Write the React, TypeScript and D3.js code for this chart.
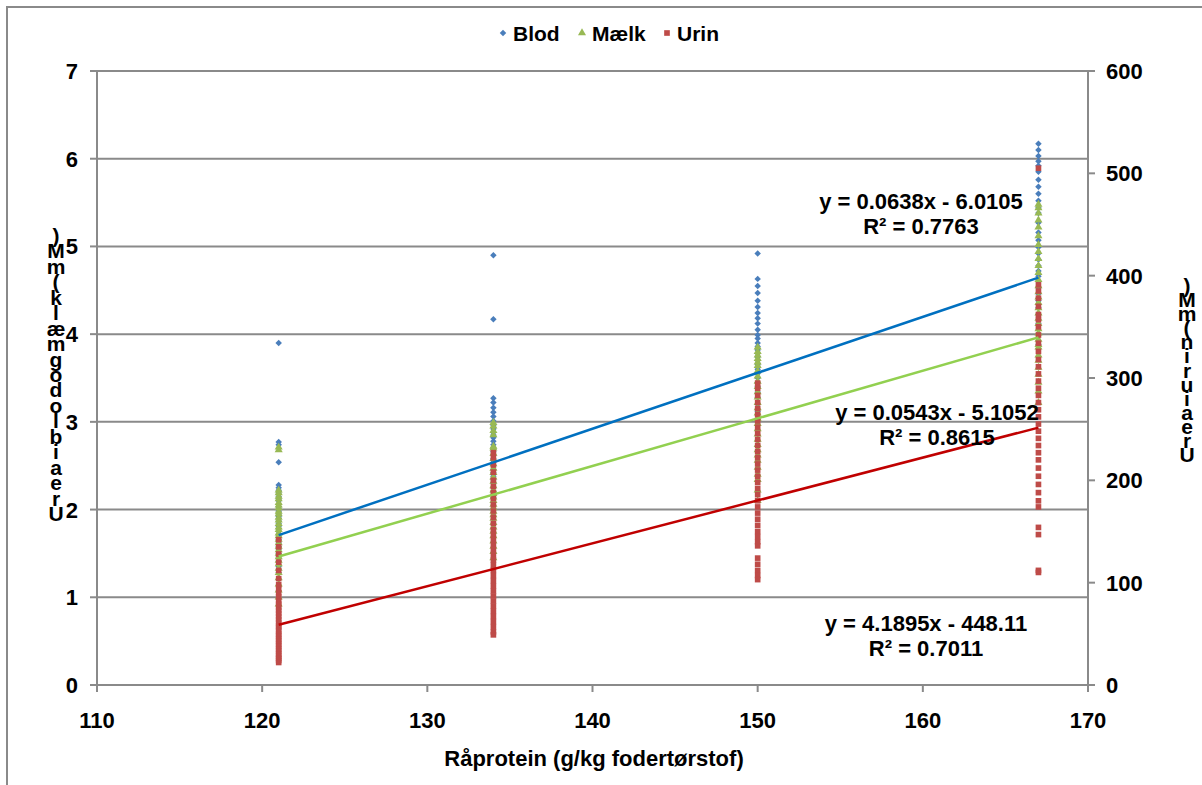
import React, { useRef, useEffect } from "react";
import * as d3 from "d3";

// x levels (g/kg fodertørstof)
const xLevels = [121, 134, 150, 167];

// Urea i blod (mM), one list per x level
const blodValues = [
  [3.9, 2.77, 2.74, 2.54, 2.28, 2.25, 2.22, 2.19, 2.15, 2.12, 2.1, 2.06, 2.03, 2.0, 1.98, 1.95, 1.92, 1.9, 1.87, 1.84, 1.81, 1.78, 1.75, 1.72, 1.7, 1.66, 1.62, 1.58, 1.55, 1.5, 1.46, 1.41, 1.35, 1.28],
  [4.9, 4.17, 3.27, 3.22, 3.16, 3.11, 3.06, 3.01, 2.96, 2.92, 2.88, 2.85, 2.82, 2.78, 2.74, 2.7, 2.66, 2.62, 2.58, 2.54, 2.5, 2.46, 2.42, 2.38, 2.34, 2.3, 2.25, 2.2, 2.14, 2.08, 2.0],
  [4.92, 4.63, 4.55, 4.47, 4.38, 4.31, 4.24, 4.18, 4.12, 4.05, 3.99, 3.95, 3.9, 3.86, 3.82, 3.78, 3.74, 3.7, 3.65, 3.6, 3.55, 3.5, 3.45, 3.4, 3.34, 3.28, 3.2, 3.12, 3.02],
  [6.17, 6.1, 6.03, 5.97, 5.92, 5.85, 5.76, 5.68, 5.6, 5.52, 5.44, 5.38, 5.27, 5.16, 5.07, 4.99, 4.92, 4.85, 4.78, 4.72, 4.66, 4.6, 4.53, 4.46, 4.38, 4.3, 4.22, 4.12, 4.0, 3.88],
];

// Urea i mælk (mM)
const maelkValues = [
  [2.71, 2.68, 2.22, 2.19, 2.15, 2.12, 2.08, 2.05, 2.02, 1.98, 1.95, 1.91, 1.88, 1.84, 1.8, 1.77, 1.73, 1.7, 1.66, 1.62, 1.58, 1.54, 1.5, 1.46, 1.42, 1.38, 1.33, 1.28, 1.22, 1.15, 1.08, 1.0, 0.92],
  [2.99, 2.95, 2.9, 2.85, 2.72, 2.7, 2.64, 2.58, 2.52, 2.47, 2.42, 2.37, 2.32, 2.27, 2.22, 2.18, 2.14, 2.1, 2.06, 2.02, 1.98, 1.94, 1.9, 1.85, 1.8, 1.75, 1.7, 1.64, 1.58, 1.52, 1.45],
  [3.85, 3.8, 3.76, 3.72, 3.68, 3.64, 3.58, 3.52, 3.46, 3.4, 3.34, 3.28, 3.22, 3.16, 3.1, 3.04, 2.98, 2.92, 2.86, 2.8, 2.74, 2.68, 2.62, 2.56, 2.48, 2.4, 2.34, 2.22, 2.1],
  [5.48, 5.44, 5.38, 5.3, 5.22, 5.12, 5.02, 4.94, 4.86, 4.78, 4.7, 4.62, 4.55, 4.48, 4.42, 4.36, 4.3, 4.24, 4.18, 4.12, 4.06, 4.01, 3.94, 3.88, 3.85, 3.76, 3.7, 3.62, 3.54, 3.45, 3.35, 3.22],
];

// Urea i urin (mM), secondary axis
const urinValues = [
  [142, 135, 128, 120, 112, 104, 98, 94, 90, 86, 82, 79, 76, 73, 70, 67, 64, 61, 58, 56, 53, 50, 48, 45, 43, 40, 38, 35, 33, 30, 28, 26, 24, 22],
  [227, 222, 215, 208, 200, 194, 188, 182, 176, 170, 164, 158, 152, 147, 142, 137, 132, 127, 122, 117, 112, 107, 102, 97, 92, 87, 82, 77, 72, 67, 62, 57, 52, 49],
  [295, 290, 283, 276, 270, 264, 258, 252, 246, 240, 234, 228, 222, 216, 210, 204, 198, 192, 186, 180, 174, 168, 162, 156, 150, 145, 140, 136, 124, 118, 112, 107, 103],
  [505, 391, 385, 378, 370, 362, 357, 350, 342, 334, 326, 318, 311, 304, 297, 290, 283, 276, 269, 262, 255, 248, 241, 234, 227, 220, 212, 204, 196, 188, 180, 174, 154, 147, 112, 110],
];

// trendlines: [slope, intercept, R²]
const blodTrend = [0.0638, -6.0105, 0.7763];
const maelkTrend = [0.0543, -5.1052, 0.8615];
const urinTrend = [4.1895, -448.11, 0.7011];

const xTicks = [110, 120, 130, 140, 150, 160, 170];
const yLeftTicks = [0, 1, 2, 3, 4, 5, 6, 7];
const yRightTicks = [0, 100, 200, 300, 400, 500, 600];

const seriesNames = ["Blod", "Mælk", "Urin"];

const leftTitle = "Urea i blod og mælk (mM)";
const rightTitle = "Urea i urin (mM)";

function App() {
  const svgRef = useRef<SVGSVGElement | null>(null);

  useEffect(() => {
    const width = 1202;
    const height = 785;
    const plot = { left: 97, right: 1088, top: 71, bottom: 685 };
    const font = "'Liberation Sans', Arial, sans-serif";
    const gridColor = "#8a8a8a";

    const svg = d3.select(svgRef.current);
    svg.selectAll("*").remove();
    svg.attr("width", width).attr("height", height);

    svg.append("rect")
      .attr("width", width)
      .attr("height", height)
      .attr("fill", "#fff");

    // outer chart border (continues beyond the picture)
    svg.append("rect")
      .attr("x", 7)
      .attr("y", 7)
      .attr("width", 1400)
      .attr("height", 1000)
      .attr("fill", "none")
      .attr("stroke", gridColor)
      .attr("stroke-width", 2);

    const x = d3.scaleLinear().domain([110, 170]).range([plot.left, plot.right]);
    const y = d3.scaleLinear().domain([0, 7]).range([plot.bottom, plot.top]);
    const y2 = d3.scaleLinear().domain([0, 600]).range([plot.bottom, plot.top]);

    // Horizontal grid lines
    svg.append("g")
      .selectAll("line")
      .data(yLeftTicks)
      .enter()
      .append("line")
      .attr("x1", plot.left)
      .attr("x2", plot.right)
      .attr("y1", d => y(d))
      .attr("y2", d => y(d))
      .attr("stroke", gridColor)
      .attr("stroke-width", 2);

    // axis lines
    const axisG = svg.append("g").attr("stroke", gridColor).attr("stroke-width", 2);
    axisG.append("line").attr("x1", plot.left).attr("x2", plot.left).attr("y1", plot.top).attr("y2", plot.bottom + 1);
    axisG.append("line").attr("x1", plot.right).attr("x2", plot.right).attr("y1", plot.top).attr("y2", plot.bottom + 1);

    // tick marks
    axisG.selectAll(".tl").data(yLeftTicks).enter().append("line")
      .attr("x1", plot.left - 7).attr("x2", plot.left)
      .attr("y1", d => y(d)).attr("y2", d => y(d));
    axisG.selectAll(".tr").data(yRightTicks).enter().append("line")
      .attr("x1", plot.right).attr("x2", plot.right + 7)
      .attr("y1", d => y2(d)).attr("y2", d => y2(d));
    axisG.selectAll(".tb").data(xTicks).enter().append("line")
      .attr("x1", d => x(d)).attr("x2", d => x(d))
      .attr("y1", plot.bottom).attr("y2", plot.bottom + 7);

    // tick labels
    const labelStyle = (sel: any, size = 22) =>
      sel.attr("font-family", font).attr("font-weight", "bold").attr("font-size", size).attr("fill", "#000");

    svg.append("g").selectAll("text").data(yLeftTicks).enter().append("text")
      .call(labelStyle)
      .attr("x", plot.left - 19)
      .attr("y", d => y(d) + 8)
      .attr("text-anchor", "end")
      .text(d => d);

    svg.append("g").selectAll("text").data(yRightTicks).enter().append("text")
      .call(labelStyle)
      .attr("x", plot.right + 18)
      .attr("y", d => y2(d) + 8)
      .attr("text-anchor", "start")
      .text(d => d);

    svg.append("g").selectAll("text").data(xTicks).enter().append("text")
      .call(labelStyle)
      .attr("x", d => x(d))
      .attr("y", plot.bottom + 43)
      .attr("text-anchor", "middle")
      .text(d => d);

    // x axis title
    svg.append("text")
      .call(labelStyle)
      .attr("x", 594)
      .attr("y", 766)
      .attr("text-anchor", "middle")
      .text("Råprotein (g/kg fodertørstof)");

    // stacked y axis titles (characters upright, read bottom to top)
    const stacked = (title: string, cx: number, yTop: number, yBottom: number) => {
      const chars = title.split("").reverse().filter(c => c !== " ");
      const step = (yBottom - yTop) / (chars.length - 1);
      svg.append("g").selectAll("text").data(chars).enter().append("text")
        .call(labelStyle, 21)
        .attr("x", cx)
        .attr("y", (d, i) => yTop + i * step)
        .attr("text-anchor", "middle")
        .text(d => d);
    };
    stacked(leftTitle, 56, 243, 521);
    stacked(rightTitle, 1187, 293, 462);

    // markers
    const diamond = d3.symbol().type(d3.symbolSquare).size(21)();
    const triangle = d3.symbol().type(d3.symbolTriangle).size(28)();
    const square = d3.symbol().type(d3.symbolSquare).size(32)();

    const series = [
      { name: seriesNames[0], values: blodValues, scale: y, path: diamond, rot: 45, color: "#4a7ebb", trend: blodTrend, line: "#0070c0" },
      { name: seriesNames[1], values: maelkValues, scale: y, path: triangle, rot: 0, color: "#98b954", trend: maelkTrend, line: "#92d050" },
      { name: seriesNames[2], values: urinValues, scale: y2, path: square, rot: 0, color: "#be4b48", trend: urinTrend, line: "#c00000" },
    ];

    series.forEach(s => {
      const pts = s.values.flatMap((vals, i) => vals.map(v => ({ x: xLevels[i], v })));
      svg.append("g")
        .selectAll("path")
        .data(pts)
        .enter()
        .append("path")
        .attr("d", s.path)
        .attr("transform", d => `translate(${x(d.x)},${s.scale(d.v)}) rotate(${s.rot})`)
        .attr("fill", s.color);
    });

    // trendlines
    const xMin = d3.min(xLevels) as number;
    const xMax = d3.max(xLevels) as number;
    series.forEach(s => {
      const [m, b] = s.trend;
      const line = d3.line<number>()
        .x(d => x(d))
        .y(d => s.scale(m * d + b));
      svg.append("path")
        .datum([xMin, xMax])
        .attr("d", line)
        .attr("fill", "none")
        .attr("stroke", s.line)
        .attr("stroke-width", 2.5);
    });

    // trendline equations
    const fmtEq = (t: number[]) =>
      `y = ${t[0]}x ${t[1] < 0 ? "-" : "+"} ${Math.abs(t[1])}`;
    const eqPos = [
      { cx: 921, y: 209 },
      { cx: 937, y: 420 },
      { cx: 926, y: 631 },
    ];
    series.forEach((s, i) => {
      const g = svg.append("g");
      g.append("text")
        .call(labelStyle)
        .attr("x", eqPos[i].cx)
        .attr("y", eqPos[i].y)
        .attr("text-anchor", "middle")
        .text(fmtEq(s.trend));
      g.append("text")
        .call(labelStyle)
        .attr("x", eqPos[i].cx)
        .attr("y", eqPos[i].y + 25)
        .attr("text-anchor", "middle")
        .text(`R² = ${s.trend[2].toFixed(4)}`);
    });

    // legend
    const legendX = [503, 582, 667];
    series.forEach((s, i) => {
      svg.append("path")
        .attr("d", s.path)
        .attr("transform", `translate(${legendX[i]},33) rotate(${s.rot})`)
        .attr("fill", s.color);
      svg.append("text")
        .call(labelStyle, 21)
        .attr("x", legendX[i] + 10)
        .attr("y", 40.5)
        .text(s.name);
    });
  }, []);

  return (
    <div style={{ position: "absolute", left: 0, top: 0 }}>
      <svg ref={svgRef} style={{ display: "block" }}></svg>
    </div>
  );
}

export default App;
